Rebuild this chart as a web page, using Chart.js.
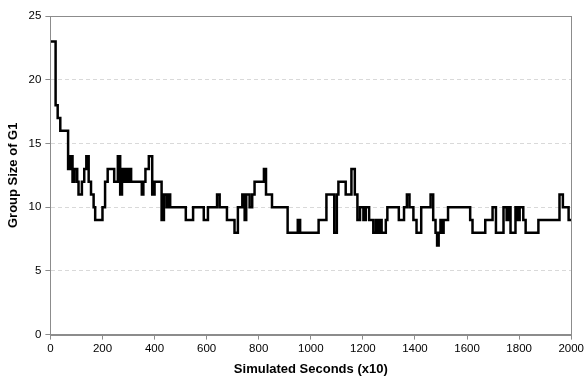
<!DOCTYPE html>
<html>
<head>
<meta charset="utf-8">
<script src="https://cdn.jsdelivr.net/npm/chart.js@4/dist/chart.umd.min.js"></script>
<style>
  html, body { margin: 0; padding: 0; background: #fff; }
  #wrap { width: 586px; height: 379px; }
</style>
</head>
<body>
<div id="wrap"><canvas id="groupcanvas"></canvas></div>
<script>
// change points of the step series: time (x10 s) where the group size switches
const changeTimes = [0, 20, 28, 38, 68, 76, 85, 93, 103, 108, 121, 130, 138, 147, 156, 166, 172, 200, 210, 220,
  245, 259, 268, 275, 282, 288, 295, 302, 310, 351, 357, 365, 378, 391, 400, 427, 436, 446, 452, 460,
  520, 548, 589, 605, 640, 650, 678, 707, 720, 737, 746, 752, 765, 775, 784, 820, 828, 851, 911, 950,
  959, 1030, 1060, 1090, 1100, 1106, 1134, 1156, 1169, 1179, 1189, 1202, 1211, 1224, 1240, 1250, 1258, 1266, 1272, 1288,
  1294, 1338, 1358, 1369, 1379, 1394, 1406, 1424, 1460, 1470, 1479, 1485, 1491, 1498, 1504, 1510, 1527, 1612, 1621, 1670,
  1698, 1711, 1740, 1752, 1760, 1767, 1786, 1795, 1802, 1816, 1825, 1874, 1955, 1968, 1990, 2000];
const groupSizes = [23, 18, 17, 16, 13, 14, 12, 13, 12, 11, 12, 13, 14, 12, 11, 10, 9, 10, 12, 13,
  12, 14, 11, 13, 12, 13, 12, 13, 12, 11, 12, 13, 14, 11, 12, 9, 11, 10, 11, 10,
  9, 10, 9, 10, 11, 10, 9, 8, 10, 11, 9, 11, 10, 11, 12, 13, 11, 10, 8, 9,
  8, 9, 11, 8, 11, 12, 11, 13, 11, 9, 10, 9, 10, 9, 8, 9, 8, 9, 8, 9,
  10, 9, 10, 11, 10, 9, 8, 10, 11, 9, 8, 7, 8, 9, 8, 9, 10, 9, 8, 9,
  10, 8, 10, 9, 10, 8, 10, 9, 10, 9, 8, 9, 11, 10, 9, 9];

const xTicks = [0, 200, 400, 600, 800, 1000, 1200, 1400, 1600, 1800, 2000];
const yTicks = [0, 5, 10, 15, 20, 25];

const points = changeTimes.map((t, i) => ({ x: t, y: groupSizes[i] }));

// grey frame around the plot area
const frame = {
  id: 'frame',
  afterDatasetsDraw(chart) {
    const { ctx, chartArea: a } = chart;
    ctx.save();
    ctx.strokeStyle = '#8c8c8c';
    ctx.lineWidth = 1;
    ctx.strokeRect(Math.round(a.left) + 0.5, Math.round(a.top) + 0.5,
      Math.round(a.right - a.left), Math.round(a.bottom - a.top));
    ctx.restore();
  }
};

const tickFont = { family: "'Liberation Sans', Arial, sans-serif", size: 11.5 };
const titleFont = { family: "'Liberation Sans', Arial, sans-serif", size: 13, weight: 'bold' };

new Chart(document.getElementById('groupcanvas').getContext('2d'), {
  type: 'line',
  data: {
    datasets: [{
      label: 'G1',
      data: points,
      stepped: true,
      borderColor: '#000',
      borderWidth: 2.5,
      pointRadius: 0,
      fill: false
    }]
  },
  options: {
    responsive: true,
    maintainAspectRatio: false,
    animation: false,
    layout: { padding: { top: 16, right: 0, left: 6, bottom: 2 } },
    plugins: { legend: { display: false }, tooltip: { enabled: false } },
    scales: {
      x: {
        type: 'linear',
        min: 0, max: 2000,
        afterBuildTicks: s => { s.ticks = xTicks.map(v => ({ value: v })); },
        ticks: { color: '#000', font: tickFont, maxRotation: 0, padding: 2, callback: v => String(v) },
        grid: { drawOnChartArea: false, drawTicks: true, tickLength: 5, tickColor: '#8c8c8c' },
        border: { color: '#8c8c8c' },
        title: { display: true, text: 'Simulated Seconds (x10)', color: '#000', font: titleFont, padding: { top: 4, bottom: 0 } }
      },
      y: {
        min: 0, max: 25,
        afterBuildTicks: s => { s.ticks = yTicks.map(v => ({ value: v })); },
        ticks: { color: '#000', font: tickFont, padding: 4, callback: v => String(v) },
        grid: { color: '#d9d9d9', tickLength: 5, tickColor: '#8c8c8c' },
        border: { color: '#8c8c8c', dash: [4, 3] },
        title: { display: true, text: 'Group Size of G1', color: '#000', font: titleFont, padding: { top: 0, bottom: 3 } }
      }
    }
  },
  plugins: [frame]
});
</script>
</body>
</html>
